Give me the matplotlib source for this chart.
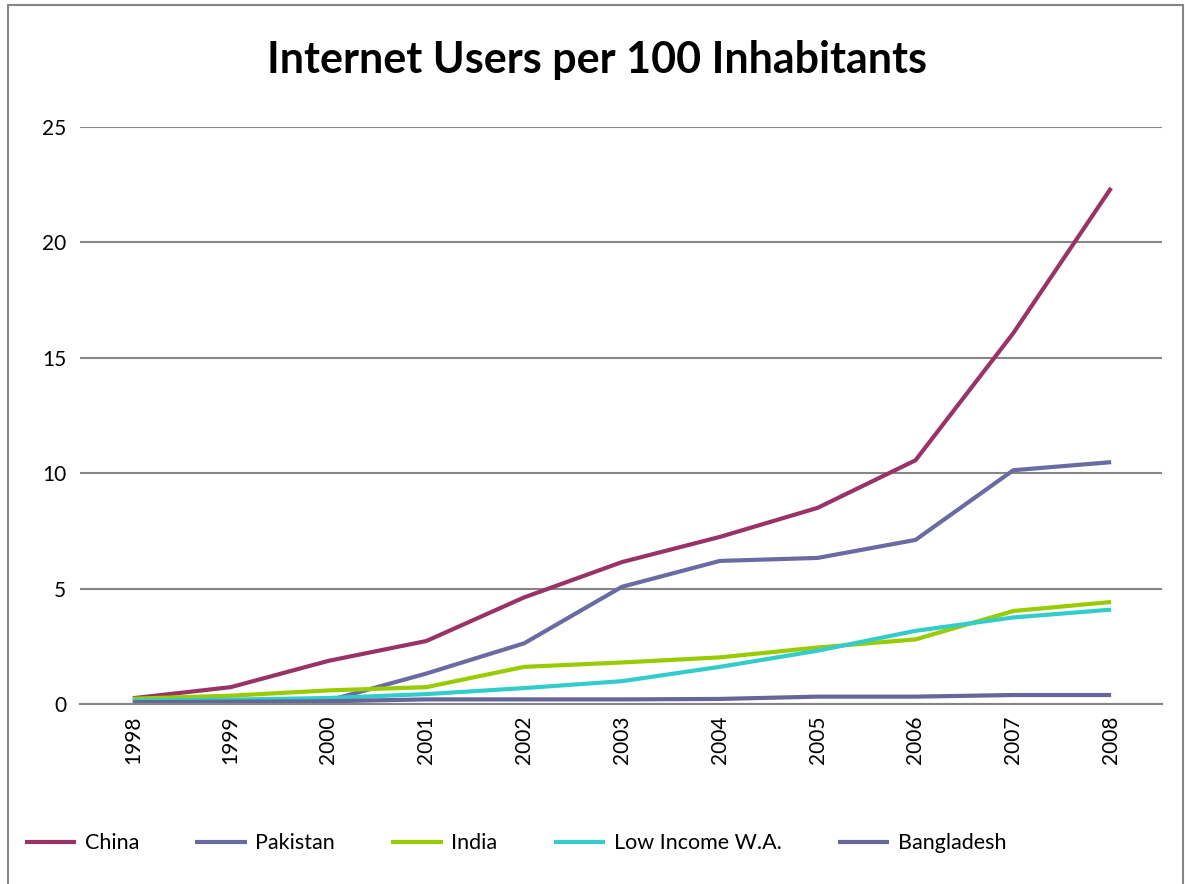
import matplotlib
matplotlib.use("Agg")
import matplotlib.pyplot as plt
from matplotlib.patches import Rectangle

years = [1998, 1999, 2000, 2001, 2002, 2003, 2004, 2005, 2006, 2007, 2008]

china = [0.25, 0.73, 1.87, 2.73, 4.62, 6.15, 7.24, 8.50, 10.56, 16.07, 22.36]
pakistan = [0.05, 0.06, 0.15, 1.32, 2.63, 5.08, 6.20, 6.33, 7.11, 10.13, 10.48]
india = [0.23, 0.36, 0.59, 0.73, 1.61, 1.80, 2.02, 2.45, 2.80, 4.03, 4.42]
low_income = [0.15, 0.19, 0.26, 0.43, 0.69, 0.99, 1.61, 2.31, 3.17, 3.75, 4.09]
bangladesh = [0.08, 0.10, 0.12, 0.20, 0.20, 0.20, 0.22, 0.32, 0.32, 0.39, 0.39]

series = [
    ("China", china, "#993366"),
    ("Pakistan", pakistan, "#6B6BA3"),
    ("India", india, "#99CC00"),
    ("Low Income W.A.", low_income, "#33CCCC"),
    ("Bangladesh", bangladesh, "#666699"),
]

plt.rcParams["font.family"] = ["Lato", "DejaVu Sans"]

fig = plt.figure(figsize=(11.85, 8.84), dpi=100)
ax = fig.add_axes([0.0675, 0.2036, 0.9131, 0.6527])

for name, vals, col in series:
    ax.plot(years, vals, color=col, lw=3, label=name, solid_capstyle="butt")

ax.set_xlim(1997.46, 2008.52)
ax.set_ylim(0, 25)
ax.set_yticks([0, 5, 10, 15, 20, 25])
ax.set_xticks(years)
ax.set_xticklabels([str(y) for y in years], rotation=90, fontsize=15)
ax.tick_params(axis="y", labelsize=15, length=0, pad=10)
ax.tick_params(axis="x", length=0, pad=8)
ax.grid(axis="y", color="#868686", lw=1.5)
ax.set_axisbelow(True)
for s in ["top", "right", "left"]:
    ax.spines[s].set_visible(False)
ax.spines["bottom"].set_color("#868686")
ax.spines["bottom"].set_linewidth(1.5)

fig.text(0.504, 0.932, "Internet Users per 100 Inhabitants", ha="center", va="center",
         fontsize=31, fontweight="bold")

fig.legend(loc="center", bbox_to_anchor=(0.435, 0.046), ncol=5, frameon=False,
           fontsize=15.5, handlelength=2.4, columnspacing=2.6, handletextpad=0.4)

fig.patches.append(Rectangle((0.007, -0.01), 0.991, 1.004, transform=fig.transFigure,
                             fill=False, edgecolor="#868686", lw=1.5))

fig.savefig("out.png", dpi=100)
